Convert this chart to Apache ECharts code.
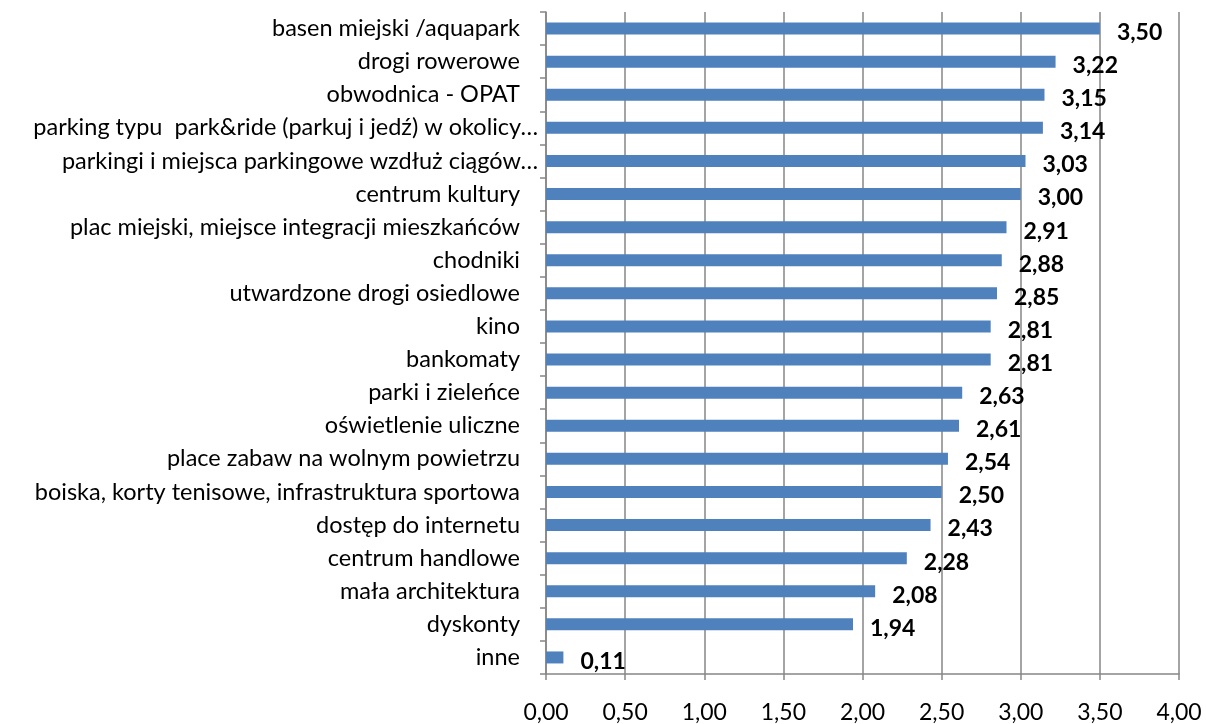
<!DOCTYPE html>
<html><head><meta charset="utf-8">
<script src="https://cdn.jsdelivr.net/npm/echarts@6/dist/echarts.min.js"></script>
<style>html,body{margin:0;padding:0;background:#fff}#c{width:1206px;height:724px}</style>
</head><body><div id="c"></div>
<script>
const categories = [
  "basen miejski /aquapark",
  "drogi rowerowe",
  "obwodnica - OPAT",
  "parking typu  park&ride (parkuj i jedź) w okolicy…",
  "parkingi i miejsca parkingowe wzdłuż ciągów…",
  "centrum kultury",
  "plac miejski, miejsce integracji mieszkańców",
  "chodniki",
  "utwardzone drogi osiedlowe",
  "kino",
  "bankomaty",
  "parki i zieleńce",
  "oświetlenie uliczne",
  "place zabaw na wolnym powietrzu",
  "boiska, korty tenisowe, infrastruktura sportowa",
  "dostęp do internetu",
  "centrum handlowe",
  "mała architektura",
  "dyskonty",
  "inne"
];
const values = [3.50, 3.22, 3.15, 3.14, 3.03, 3.00, 2.91, 2.88, 2.85, 2.81, 2.81, 2.63, 2.61, 2.54, 2.50, 2.43, 2.28, 2.08, 1.94, 0.11];
const xTicks = [0, 0.5, 1, 1.5, 2, 2.5, 3, 3.5, 4];

const fmt = v => v.toFixed(2).replace('.', ',');
const font = 'Lato, "Open Sans", sans-serif';
const chart = echarts.init(document.getElementById('c'));
chart.setOption({
  animation: false,
  grid: {left: 546, right: 27, top: 12, bottom: 47, containLabel: false},
  xAxis: {
    type: 'value', min: xTicks[0], max: xTicks[xTicks.length - 1], interval: 0.5,
    axisLine: {show: true, lineStyle: {color: '#868686', width: 1.5}},
    axisTick: {show: true, length: 6, lineStyle: {color: '#868686', width: 1.5}},
    splitLine: {show: true, lineStyle: {color: '#868686', width: 1.5}},
    axisLabel: {formatter: fmt, color: '#000', fontSize: 23, fontFamily: font, margin: 27}
  },
  yAxis: {
    type: 'category', data: categories, inverse: true,
    axisLine: {show: true, lineStyle: {color: '#868686', width: 1.5}},
    axisTick: {show: true, length: 6, lineStyle: {color: '#868686', width: 1.5}},
    axisLabel: {
      color: '#000', fontSize: 23.5, fontFamily: font, margin: 8,
      formatter: v => v.endsWith('…') ? '{e|' + v + '}' : '{n|' + v + '}',
      rich: {
        e: {fontSize: 23.5, fontFamily: font, color: '#000'},
        n: {fontSize: 23.5, fontFamily: font, color: '#000', padding: [0, 18, 0, 0]}
      }
    }
  },
  series: [{
    type: 'bar', data: values, barWidth: 12,
    itemStyle: {color: '#4F81BD'},
    label: {show: true, position: 'right', distance: 17, offset: [0, 4],
      formatter: p => fmt(p.value), color: '#000', fontWeight: 'bold', fontSize: 23, fontFamily: font}
  }]
});
</script></body></html>
